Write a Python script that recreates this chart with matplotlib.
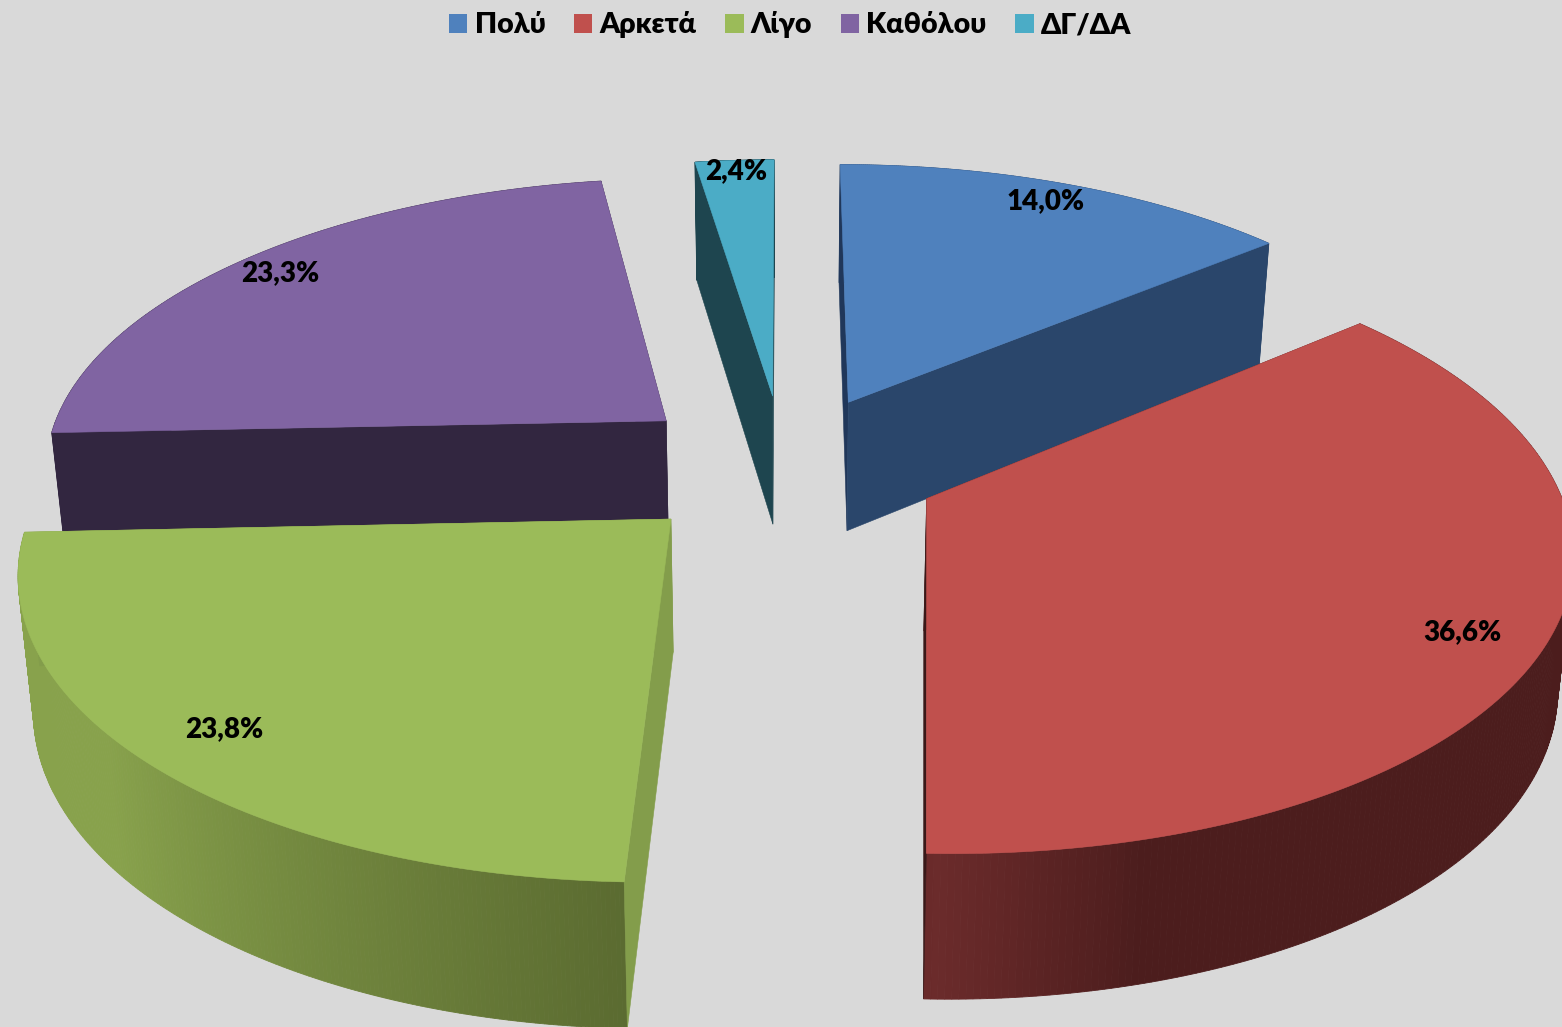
"""Exploded 3D pie chart, drawn by projecting each slice through a small perspective model."""

import numpy as np
import matplotlib
matplotlib.use("Agg")
import matplotlib.pyplot as plt
from matplotlib.colors import to_rgb
from matplotlib.patches import Patch

plt.rcParams["font.family"] = ["Lato", "Noto Sans", "DejaVu Sans"]

categories = ["Πολύ", "Αρκετά", "Λίγο", "Καθόλου", "ΔΓ/ΔΑ"]
values = [14.0, 36.6, 23.8, 23.3, 2.4]

top_colors = ["#4f81bd", "#c0504d", "#9bbb59", "#8064a2", "#4bacc6"]
start_cut_colors = ["#20375a", "#4c1d1d", "#839d4b", "#322640", "#1e454f"]
end_cut_colors = ["#2a466b", "#3a1818", "#839d4b", "#322640", "#1e454f"]
# wall colour at the front of the pie, and the colour it reaches further round
wall_front = ["#2a466b", "#6b2b2b", "#5a6a30", "#322640", "#1e454f"]
wall_side = ["#2a466b", "#4c1d1d", "#88a24c", "#322640", "#1e454f"]
wall_fade_deg = [60, 16, 50, 60, 60]
label_radii = [0.91, 0.88, 0.87, 0.91, 0.95]
label_shift_deg = [-0.6, 2.0, 0, 0, 0]

BG = "#d9d9d9"
CX, CY = 784, 466      # pie centre in pixels
A, B = 625, 291        # horizontal and vertical radius before perspective
P = 0.15               # perspective of the top face
DEPTH, Q = 131, 0.09   # wall height and how it shrinks to the back
BOTTOM_SHRINK = 0.02
EXPLODE = 0.25


def project(x, y, z=0.0):
    w = 1 + P * y
    sx = CX + A * x / w * (1 - BOTTOM_SHRINK * z)
    sy = CY - B * y / w + DEPTH * z / (1 + Q * y)
    return sx, sy


def arc(theta, ox, oy):
    return ox + np.sin(theta), oy + np.cos(theta)


fig = plt.figure(figsize=(15.62, 10.27), dpi=100, facecolor=BG)
ax = fig.add_axes([0, 0, 1, 1])
ax.set_xlim(0, 1562)
ax.set_ylim(1027, 0)
ax.axis("off")

shares = np.array(values) / np.sum(values) * 2 * np.pi
starts = np.concatenate([[0], np.cumsum(shares)[:-1]])
ends = starts + shares

# back to front so nearer slices overlap the ones behind them
for order, i in enumerate([4, 0, 3, 2, 1]):
    mid = (starts[i] + ends[i]) / 2
    ox, oy = EXPLODE * np.sin(mid), EXPLODE * np.cos(mid)
    theta = np.linspace(starts[i], ends[i], 240)
    xs, ys = arc(theta, ox, oy)

    # outer wall, in thin strips so the shading can change round the rim
    front = np.array(to_rgb(wall_front[i]))
    side = np.array(to_rgb(wall_side[i]))
    for k in range(len(theta) - 1):
        off = abs(np.degrees((theta[k] + theta[k + 1]) / 2) - 181)
        t = min(off / wall_fade_deg[i], 1.0)
        color = front + (side - front) * t
        x0, y0 = project(xs[k:k + 2], ys[k:k + 2])
        x1, y1 = project(xs[k:k + 2], ys[k:k + 2], 1.0)
        ax.fill(np.r_[x0, x1[::-1]], np.r_[y0, y1[::-1]], color=color, lw=0.6, zorder=order)

    # the two cut faces, the one further back first
    faces = [(starts[i], start_cut_colors[i]), (ends[i], end_cut_colors[i])]
    faces.sort(key=lambda f: -np.cos(f[0]))
    for angle, color in faces:
        ex, ey = arc(angle, ox, oy)
        fx = [ox, ex, ex, ox]
        fy = [oy, ey, ey, oy]
        fz = [0, 0, 1, 1]
        px, py = zip(*[project(a, b, c) for a, b, c in zip(fx, fy, fz)])
        ax.fill(px, py, color=color, lw=0.4, zorder=order)

    # top face
    tx, ty = project(np.r_[ox, xs], np.r_[oy, ys])
    ax.fill(tx, ty, color=top_colors[i], lw=0.4, zorder=order)

    r = label_radii[i]
    la = mid + np.radians(label_shift_deg[i])
    lx, ly = project(ox + r * np.sin(la), oy + r * np.cos(la))
    ax.text(lx, ly, f"{values[i]:.1f}%".replace(".", ","), fontsize=20, fontweight="heavy",
            ha="center", va="center", color="black", zorder=10)

handles = [Patch(facecolor=c, edgecolor="none") for c in top_colors]
fig.legend(handles, categories, loc="upper center", bbox_to_anchor=(0.5058, 0.992), ncols=5,
           frameon=False, prop={"size": 20.5, "weight": "heavy"}, handlelength=0.65, handleheight=0.65,
           handletextpad=0.25, columnspacing=1.0, borderaxespad=0.0, borderpad=0.1)

fig.savefig("out.png", dpi=100, facecolor=BG)
